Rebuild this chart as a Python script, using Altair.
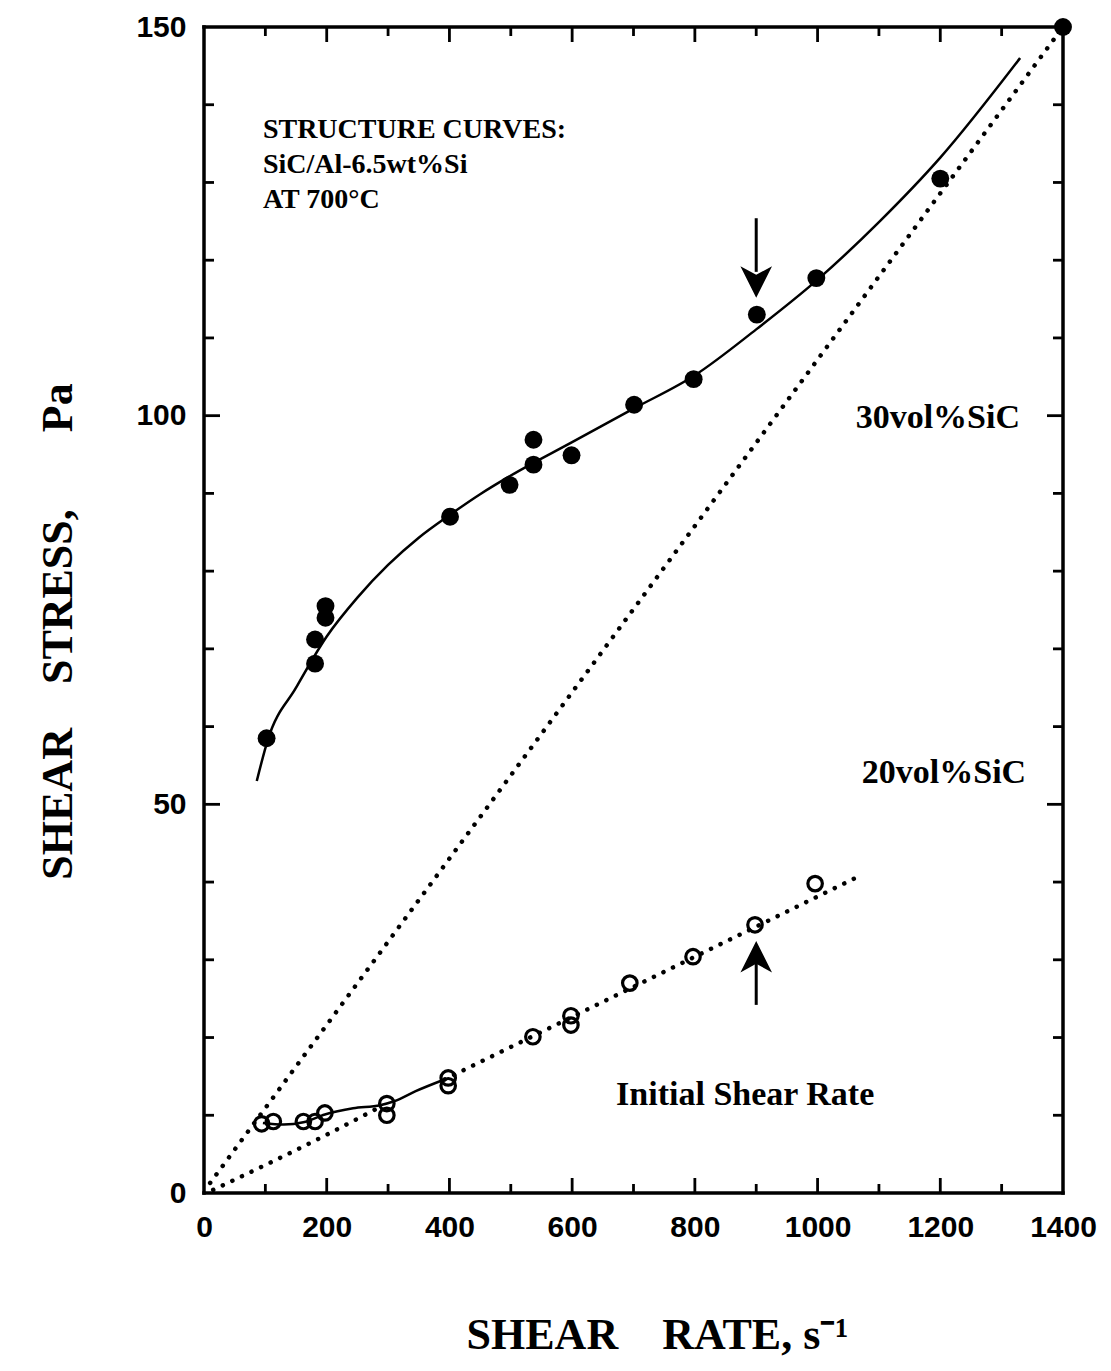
import altair as alt
import pandas as pd

# ---------------- data ----------------
# 30 vol% SiC (filled circles)
x30 = [102, 181, 181, 198, 198, 401, 498, 537, 537, 599, 701, 798, 901, 998, 1200, 1400]
y30 = [58.5, 68.1, 71.2, 74.0, 75.5, 87.0, 91.1, 93.7, 96.9, 94.9, 101.4, 104.7, 113.0, 117.7, 130.5, 150.0]

# 20 vol% SiC (open circles)
x20 = [94, 113, 162, 181, 197, 298, 298, 398, 398, 536, 598, 598, 694, 797, 898, 996]
y20 = [8.9, 9.2, 9.2, 9.2, 10.3, 11.5, 10.0, 14.8, 13.8, 20.1, 22.8, 21.6, 27.0, 30.4, 34.5, 39.8]

# fitted structure curve, 30 vol%
cx30 = [86, 104, 150, 200, 250, 300, 350, 400, 450, 500, 600, 700, 800, 900, 1000, 1100, 1200, 1330]
cy30 = [53.0, 58.3, 65.0, 71.6, 76.6, 80.8, 84.3, 87.2, 89.9, 92.3, 96.6, 100.9, 105.2, 111.1, 117.5, 124.9, 133.2, 146.0]

# solid low-rate part of 20 vol% curve
cx20 = [96, 130, 162, 197, 243, 287, 310, 345, 392]
cy20 = [9.0, 8.8, 9.1, 10.1, 10.9, 11.3, 11.8, 13.1, 14.6]

# dotted continuation of 20 vol% curve
dx20 = [392, 1061]
dy20 = [14.6, 40.5]

# dotted lines from the origin
steep_x = [10, 1400]
steep_y = [1.3, 150.0]
shallow_x = [15, 200, 290]
shallow_y = [0.4, 7.5, 11.2]

# tick values
x_label_vals = [0, 200, 400, 600, 800, 1000, 1200, 1400]
x_minor = [100, 300, 500, 700, 900, 1100, 1300]
x_major = [200, 400, 600, 800, 1000, 1200]
y_label_vals = [0, 50, 100, 150]
y_minor = [10, 20, 30, 40, 60, 70, 80, 90, 110, 120, 130, 140]
y_major = [50, 100]

# arrows (initial shear rate)
arrow_x = [900, 900]
shaft_y1 = [125.4, 24.2]
shaft_y2 = [118.5, 30.0]
head_y = [117.2, 30.4]

# annotations
struct_text = ["STRUCTURE CURVES:", "SiC/Al-6.5wt%Si", "AT 700°C"]
struct_x = [96, 96, 96]
struct_y = [136.8, 132.3, 127.8]
label_text = ["30vol%SiC", "20vol%SiC", "Initial Shear Rate"]
label_x = [1196, 1206, 882]
label_y = [99.7, 54.0, 12.6]

# ---------------- chart ----------------
W, H = 859, 1166
xs = alt.Scale(domain=[0, 1400], nice=False, zero=False)
ys = alt.Scale(domain=[0, 150], nice=False, zero=False)

NB = "\u00a0"
xaxis = alt.Axis(
    values=x_label_vals, format="d", ticks=False, domain=False, grid=False,
    labelFont="Liberation Sans", labelFontSize=30, labelFontWeight="bold",
    labelColor="black", labelPadding=19, labelFlush=False,
    title="SHEAR" + NB * 4 + "RATE," + NB + "s\u207b\u00b9",
    titleFont="Liberation Serif", titleFontSize=44, titleFontWeight="bold",
    titleColor="black", titleX=453, titleY=142, titleAlign="center",
    titleBaseline="middle",
)
yaxis = alt.Axis(
    values=y_label_vals, format="d", ticks=False, domain=False, grid=False,
    labelFont="Liberation Sans", labelFontSize=30, labelFontWeight="bold",
    labelColor="black", labelPadding=18, labelFlush=False,
    title="SHEAR" + NB * 4 + "STRESS," + NB * 7 + "Pa",
    titleFont="Liberation Serif", titleFontSize=44, titleFontWeight="bold",
    titleColor="black", titleAngle=270, titleX=-146, titleY=604,
    titleAlign="center", titleBaseline="middle",
)


def X(f):
    return alt.X(f, type="quantitative", scale=xs, axis=xaxis)


def Y(f):
    return alt.Y(f, type="quantitative", scale=ys, axis=yaxis)


df30 = pd.DataFrame({"x": x30, "y": y30})
df20 = pd.DataFrame({"x": x20, "y": y20})

pts30 = alt.Chart(df30).mark_circle(size=320, color="black", opacity=1).encode(x=X("x"), y=Y("y"))
pts20 = alt.Chart(df20).mark_point(shape="circle", filled=False, size=210, strokeWidth=3.2,
                                    color="black", opacity=1).encode(x=X("x"), y=Y("y"))

curve30 = alt.Chart(pd.DataFrame({"x": cx30, "y": cy30})).mark_line(
    color="black", strokeWidth=2.5, interpolate="monotone").encode(x=X("x"), y=Y("y"))
curve20 = alt.Chart(pd.DataFrame({"x": cx20, "y": cy20})).mark_line(
    color="black", strokeWidth=2.5, interpolate="monotone").encode(x=X("x"), y=Y("y"))

dot_style = dict(color="black", strokeWidth=4.5, strokeDash=[0.1, 10.5], strokeCap="round")
dot20 = alt.Chart(pd.DataFrame({"x": dx20, "y": dy20})).mark_line(**dot_style).encode(x=X("x"), y=Y("y"))
steep = alt.Chart(pd.DataFrame({"x": steep_x, "y": steep_y})).mark_line(**dot_style).encode(x=X("x"), y=Y("y"))
shallow = alt.Chart(pd.DataFrame({"x": shallow_x, "y": shallow_y})).mark_line(
    interpolate="monotone", **dot_style).encode(x=X("x"), y=Y("y"))

# frame
one = pd.DataFrame({"a": [0]})
fr = dict(color="black", strokeWidth=3.5, strokeCap="square")
f_bottom = alt.Chart(one).mark_rule(**fr).encode(x=alt.value(0), x2=alt.value(W), y=alt.value(H))
f_top = alt.Chart(one).mark_rule(**fr).encode(x=alt.value(0), x2=alt.value(W), y=alt.value(0))
f_left = alt.Chart(one).mark_rule(**fr).encode(y=alt.value(0), y2=alt.value(H), x=alt.value(0))
f_right = alt.Chart(one).mark_rule(**fr).encode(y=alt.value(0), y2=alt.value(H), x=alt.value(W))

# inward tick marks on all four sides
tick_style = dict(color="black", strokeWidth=2.8)
bx_min = alt.Chart(pd.DataFrame({"v": x_minor})).mark_rule(**tick_style).encode(
    x=X("v"), y=alt.value(H), y2=alt.value(H - 9))
bx_maj = alt.Chart(pd.DataFrame({"v": x_major})).mark_rule(**tick_style).encode(
    x=X("v"), y=alt.value(H), y2=alt.value(H - 15))
tx_min = alt.Chart(pd.DataFrame({"v": x_minor})).mark_rule(**tick_style).encode(
    x=X("v"), y=alt.value(0), y2=alt.value(9))
tx_maj = alt.Chart(pd.DataFrame({"v": x_major})).mark_rule(**tick_style).encode(
    x=X("v"), y=alt.value(0), y2=alt.value(15))
ly_min = alt.Chart(pd.DataFrame({"v": y_minor})).mark_rule(**tick_style).encode(
    y=Y("v"), x=alt.value(0), x2=alt.value(10))
ly_maj = alt.Chart(pd.DataFrame({"v": y_major})).mark_rule(**tick_style).encode(
    y=Y("v"), x=alt.value(0), x2=alt.value(16))
ry_min = alt.Chart(pd.DataFrame({"v": y_minor})).mark_rule(**tick_style).encode(
    y=Y("v"), x=alt.value(W), x2=alt.value(W - 10))
ry_maj = alt.Chart(pd.DataFrame({"v": y_major})).mark_rule(**tick_style).encode(
    y=Y("v"), x=alt.value(W), x2=alt.value(W - 16))

# arrows
adf = pd.DataFrame({"x": arrow_x, "y1": shaft_y1, "y2": shaft_y2, "yh": head_y,
                    "dir": ["down", "up"]})
shafts = alt.Chart(adf).mark_rule(color="black", strokeWidth=3).encode(
    x=X("x"), y=Y("y1"), y2="y2")
head_down = alt.Chart(adf[adf["dir"] == "down"]).mark_point(
    shape="M0,1 L-1,-1 L0,-0.45 L1,-1 Z", filled=True, size=1000, color="black",
    opacity=1, strokeWidth=0).encode(x=X("x"), y=Y("yh"))
head_up = alt.Chart(adf[adf["dir"] == "up"]).mark_point(
    shape="M0,-1 L-1,1 L0,0.45 L1,1 Z", filled=True, size=1000, color="black",
    opacity=1, strokeWidth=0).encode(x=X("x"), y=Y("yh"))

# text annotations
sdf = pd.DataFrame({"x": struct_x, "y": struct_y, "t": struct_text})
stext = alt.Chart(sdf).mark_text(font="Liberation Serif", fontSize=28, fontWeight="bold",
                                 align="left", baseline="middle", color="black").encode(
    x=X("x"), y=Y("y"), text="t:N")
ldf = pd.DataFrame({"x": label_x, "y": label_y, "t": label_text})
ltext = alt.Chart(ldf).mark_text(font="Liberation Serif", fontSize=34, fontWeight="bold",
                                 align="center", baseline="middle", color="black").encode(
    x=X("x"), y=Y("y"), text="t:N")

chart = alt.layer(
    steep, shallow, dot20, curve30, curve20, pts30, pts20,
    f_bottom, f_top, f_left, f_right,
    bx_min, bx_maj, tx_min, tx_maj, ly_min, ly_maj, ry_min, ry_maj,
    shafts, head_down, head_up, stext, ltext,
).properties(
    width=W, height=H,
    background="white",
    autosize=alt.AutoSizeParams(type="none"),
    padding={"left": 196, "top": 19, "right": 40, "bottom": 170},
).configure_view(stroke=None)

chart.save("out.html", embed_options={"renderer": "svg", "actions": False})
